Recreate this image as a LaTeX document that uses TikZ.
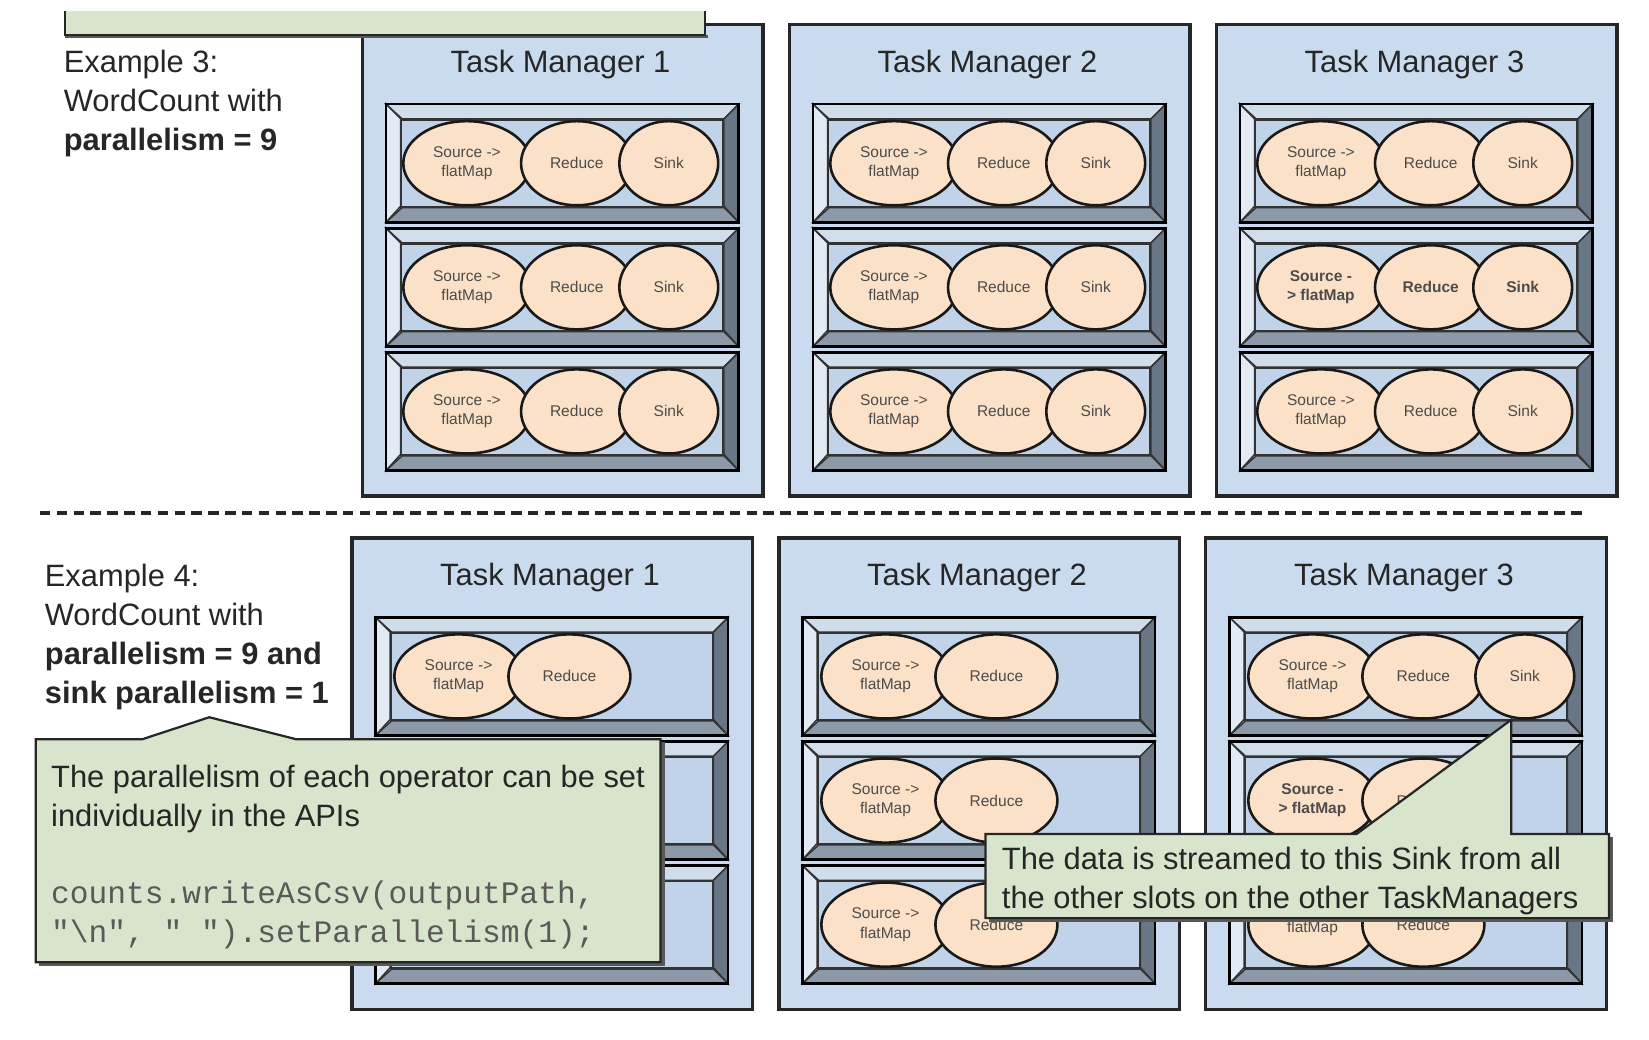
\documentclass[tikz,border=0pt]{standalone}
\usepackage{fontspec}
\setmainfont{Liberation Sans}
\setmonofont{Liberation Mono}
\usepackage{tikz}
\usetikzlibrary{shapes,arrows,positioning}

\definecolor{tmblue}{RGB}{202,219,239}
\definecolor{slotblue}{RGB}{193,211,232}
\definecolor{bevtop}{RGB}{208,221,235}
\definecolor{bevleft}{RGB}{226,234,243}
\definecolor{bevright}{RGB}{104,118,134}
\definecolor{bevbottom}{RGB}{140,153,168}
\definecolor{opfill}{RGB}{251,225,199}
\definecolor{notegreen}{RGB}{216,229,204}

\begin{document}
\begin{tikzpicture}[
    % GLOBAL CFG
    x=0.1mm, y=-0.1mm,
    font=\fontsize{8.35}{10.5}\selectfont,
    % Styles
    tm/.style={% For the task manager boxes
        rectangle,
        draw=black!85,
        line width=0.9pt,
        fill=tmblue,
        anchor=north west,
        minimum width=38.1mm,
        minimum height=44.8mm,
        },
    tmtitle/.style={% Task manager names
        anchor=base,
        text=black!85,
        },
    slot/.style={% Outer frame of a slot, drawn later
        rectangle,
        anchor=north west,
        inner sep=0pt,
        minimum width=33.4mm,
        minimum height=11.1mm,
        },
    slotin/.style={% Inside of a slot
        rectangle,
        draw=black!80,
        line width=0.5pt,
        fill=slotblue,
        inner sep=0pt,
        minimum width=30.6mm,
        minimum height=8.3mm,
        },
    bevel/.style={% 3d border of the slots
        draw=black!80,
        line width=0.4pt,
        },
    op/.style={% For operators like Source, Reduce and Sink
        ellipse,
        draw=black!90,
        line width=0.7pt,
        fill=opfill,
        inner sep=0pt,
        minimum height=8mm,
        align=center,
        text=black!70,
        font=\fontsize{4.2}{5.2}\selectfont,
        },
    opbold/.style={% operators written in bold
        op,
        font=\fontsize{4.2}{5.2}\selectfont\bfseries,
        },
    sidetext/.style={% For plain text
        anchor=north west,
        inner sep=0pt,
        align=left,
        text=black!85,
        },
    codetext/.style={% For the source code
        anchor=north west,
        inner sep=0pt,
        align=left,
        text=black!65,
        font=\fontsize{8.45}{10.5}\selectfont\ttfamily,
        },
    note/.style={% For the green callouts
        fill=notegreen,
        draw=black!85,
        line width=0.6pt,
        },
    noteshadow/.style={% shadow under the callouts
        fill=black!65,
        },
    sepline/.style={% the line between the two examples
        draw=black!85,
        line width=1.2pt,
        dash pattern=on 1mm off 0.6mm,
        },
    ]

%Start drawing the thing...
    \fill [white] (0,0) rectangle (1568,988);
    \useasboundingbox (0,0) rectangle (1568,988);

    % Separator between example 3 and example 4
    \coordinate (sepL) at (38,488);
    \coordinate (sepR) at (1505,488);
    \draw [sepline] (sepL) -- (sepR);

    % Draw the task managers named tmA# (example 3) and tmB# (example 4)
    \foreach \r/\dx/\dy in {A/0/0, B/-10/488}{
        \foreach \i/\x in {1/343, 2/749, 3/1155}{
            \node [tm] (tm\r\i) at ({\x+\dx},{22+\dy}) {};
            \node [tmtitle] (title\r\i) at ({\x+\dx+190},{69+\dy}) {Task Manager \i};
        }
    }

    % Draw the slots named sl<example><manager><slot>
    \foreach \r/\dx/\dy in {A/0/0, B/-10/488}{
        \foreach \i/\x in {1/367, 2/773, 3/1179}{
            \foreach \j/\y in {1/99, 2/217, 3/335}{
                \node [slot] (sl\r\i\j) at ({\x+\dx},{\y+\dy}) {};
                \filldraw [bevel, fill=bevtop] (sl\r\i\j.north west) -- (sl\r\i\j.north east) -- ++(-14,14) -- ++(-306,0) -- cycle;
                \filldraw [bevel, fill=bevbottom] (sl\r\i\j.south west) -- (sl\r\i\j.south east) -- ++(-14,-14) -- ++(-306,0) -- cycle;
                \filldraw [bevel, fill=bevleft] (sl\r\i\j.north west) -- ++(14,14) -- ++(0,83) -- (sl\r\i\j.south west) -- cycle;
                \filldraw [bevel, fill=bevright] (sl\r\i\j.north east) -- ++(-14,14) -- ++(0,83) -- (sl\r\i\j.south east) -- cycle;
                \node [slotin] (in\r\i\j) at (sl\r\i\j.center) {};
                \draw [line width=0.7pt] (sl\r\i\j.north west) rectangle (sl\r\i\j.south east);
            }
        }
    }

    % Draw operators of example 3 named src#, red#, snk#
    \foreach \s in {A11,A12,A13,A21,A22,A23,A31,A33}{
        \node [op, minimum width=12.1mm] (src\s) at ([xshift=7.7mm]sl\s.west) {Source ->\\flatMap};
        \node [op, minimum width=10.6mm, right=-1.15mm of src\s] (red\s) {Reduce};
        \node [op, minimum width=9.4mm, right=-1.5mm of red\s] (snk\s) {Sink};
    }
    \node [opbold, minimum width=12.1mm] (srcA32) at ([xshift=7.7mm]slA32.west) {Source -\\> flatMap};
    \node [opbold, minimum width=10.6mm, right=-1.15mm of srcA32] (redA32) {Reduce};
    \node [opbold, minimum width=9.4mm, right=-1.5mm of redA32] (snkA32) {Sink};

    % Draw operators of example 4, only one Sink
    \foreach \s in {B11,B21,B22,B23,B31}{
        \node [op, minimum width=12.2mm] (src\s) at ([xshift=7.9mm]sl\s.west) {Source ->\\flatMap};
        \node [op, minimum width=11.6mm, right=-1.6mm of src\s] (red\s) {Reduce};
    }
    \node [op, minimum width=9.4mm, right=-1.1mm of redB31] (snkB31) {Sink};
    \node [opbold, minimum width=12.2mm] (srcB32) at ([xshift=7.9mm]slB32.west) {Source -\\> flatMap};
    \node [op, minimum width=11.6mm, right=-1.6mm of srcB32] (redB32) {Reduce};
    % first line is under the callout
    \node [op, minimum width=12.2mm] (srcB33) at ([xshift=7.9mm]slB33.west) {\mbox{}\\flatMap};
    \node [op, minimum width=11.6mm, right=-1.6mm of srcB33] (redB33) {Reduce};

    % Text on the left
    \node [sidetext] (exA) at (60,47) {Example 3:\\WordCount with\\\textbf{parallelism = 9}};
    \node [sidetext] (exB) at (42,536) {Example 4:\\WordCount with\\\textbf{parallelism = 9 and}\\\textbf{sink parallelism = 1}};

    % Callouts
    \coordinate (tipA) at (199,682);
    \coordinate (tipB) at ([xshift=-1.3mm]snkB31.south);
    \coordinate (topB) at (1530,793);
    \fill [noteshadow] (37,706) rectangle (632,919);
    \draw [note] (34,703) -- (135,703) -- (tipA) -- (282,703) -- (628,703) -- (628,915) -- (34,915) -- cycle;
    \node [sidetext] (noteAtext) at (48,727) {The parallelism of each operator can be set\\individually in the APIs};
    \node [codetext] (noteAcode) at (48,837) {counts.writeAsCsv(outputPath,\\"\textbackslash n", " ").setParallelism(1);};

    \fill [noteshadow] (940,796) rectangle (1534,877);
    \draw [note] (937,793) -- (1290,793) -- (tipB) -- (tipB |- topB) -- (topB) -- (1530,873) -- (937,873) -- cycle;
    \node [sidetext] (noteBtext) at (952,805) {The data is streamed to this Sink from all\\the other slots on the other TaskManagers};

    % the callout cut off at the top
    \fill [noteshadow] (62,33) rectangle (673,36);
    \draw [note] (62,10) -- (62,33) -- (670,33) -- (670,10);

\end{tikzpicture}
\end{document}
